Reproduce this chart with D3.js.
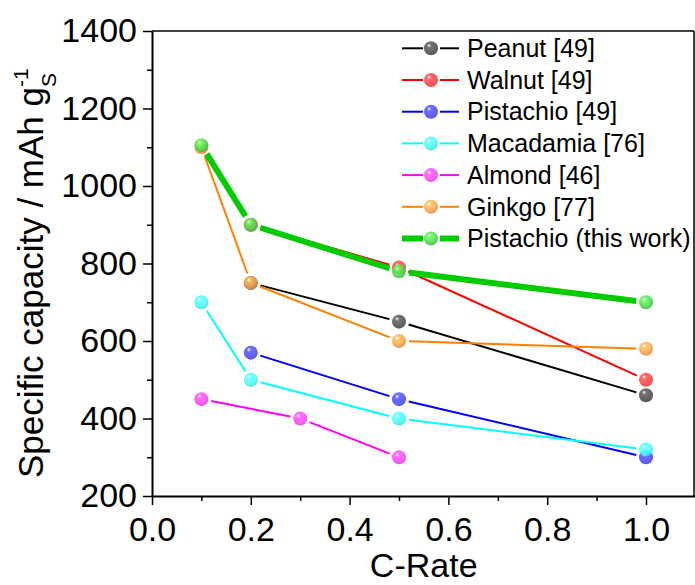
<!DOCTYPE html>
<html>
<head>
<meta charset="utf-8">
<script src="https://cdn.jsdelivr.net/npm/d3@7"></script>
<style>
  html, body { margin: 0; padding: 0; background: #fff; }
  svg { display: block; font-family: "Liberation Sans", Arial, sans-serif; }
</style>
</head>
<body>
<svg id="chart" width="695" height="585"></svg>
<script>
// ---- data ----
const seriesNames = ["Peanut [49]", "Walnut [49]", "Pistachio [49]", "Macadamia [76]", "Almond [46]", "Ginkgo [77]", "Pistachio (this work)"];
const peanutX = [0.2, 0.5, 1.0];
const peanutY = [750, 650, 460];
const walnutX = [0.2, 0.5, 1.0];
const walnutY = [900, 790, 500];
const pistachio49X = [0.2, 0.5, 1.0];
const pistachio49Y = [570, 450, 300];
const macadamiaX = [0.1, 0.2, 0.5, 1.0];
const macadamiaY = [700, 500, 400, 320];
const almondX = [0.1, 0.3, 0.5];
const almondY = [450, 400, 300];
const ginkgoX = [0.1, 0.2, 0.5, 1.0];
const ginkgoY = [1100, 750, 600, 580];
const thisWorkX = [0.1, 0.2, 0.5, 1.0];
const thisWorkY = [1105, 900, 780, 700];
const xMajorTicks = [0.0, 0.2, 0.4, 0.6, 0.8, 1.0];
const xMinorTicks = [0.1, 0.3, 0.5, 0.7, 0.9];
const yMajorTicks = [200, 400, 600, 800, 1000, 1200, 1400];
const yMinorTicks = [300, 500, 700, 900, 1100, 1300];

// ---- styles ----
const lineColors = ["#000000", "#ff0000", "#0000ff", "#00ffff", "#ff00ff", "#ff8000", "#00cc00"];
const markColors = ["#4a4a4a", "#ff4040", "#4646ff", "#46ffff", "#ff46ff", "#ffa048", "#4ad84a"];
const lineWidths = [2, 2, 2, 2, 2, 2, 6];

const seriesX = [peanutX, walnutX, pistachio49X, macadamiaX, almondX, ginkgoX, thisWorkX];
const seriesY = [peanutY, walnutY, pistachio49Y, macadamiaY, almondY, ginkgoY, thisWorkY];
const series = seriesNames.map((name, i) => ({
  name, color: lineColors[i], mark: markColors[i], width: lineWidths[i],
  points: seriesX[i].map((x, j) => ({ x, y: seriesY[i][j] }))
}));

const svg = d3.select("#chart");
const pLeft = 152, pRight = 695.4, pTop = 31, pBottom = 496;
const x = d3.scaleLinear().domain([0, 1.1]).range([pLeft, pRight]);
const y = d3.scaleLinear().domain([200, 1400]).range([pBottom, pTop]);

// gradients for sphere markers
const defs = svg.append("defs");
series.forEach((s, i) => {
  const g = defs.append("radialGradient").attr("id", "ball" + i)
    .attr("cx", "45%").attr("cy", "40%").attr("r", "60%")
    .attr("fx", "35%").attr("fy", "28%");
  g.append("stop").attr("offset", "0%").attr("stop-color", "#ffffff");
  g.append("stop").attr("offset", "25%").attr("stop-color", d3.color(s.mark).brighter(0.6));
  g.append("stop").attr("offset", "70%").attr("stop-color", s.mark);
  g.append("stop").attr("offset", "100%").attr("stop-color", d3.color(s.mark).darker(0.5));
});

const R = 7, GAP = 10;

// frame
svg.append("line").attr("x1", pLeft).attr("x2", 694).attr("y1", pTop).attr("y2", pTop)
  .attr("stroke", "#000").attr("stroke-width", 1.5);
svg.append("line").attr("x1", 694).attr("x2", 694).attr("y1", pTop).attr("y2", pBottom)
  .attr("stroke", "#000").attr("stroke-width", 1.5);

// axes
const fontSize = 34;
const yAxis = svg.append("g").attr("transform", `translate(${pLeft},0)`)
  .call(d3.axisLeft(y).tickValues(yMajorTicks).tickSize(9).tickSizeOuter(0).tickPadding(6).tickFormat(d3.format("d")));
const yMinor = svg.append("g").attr("transform", `translate(${pLeft},0)`)
  .call(d3.axisLeft(y).tickValues(yMinorTicks).tickSize(5).tickSizeOuter(0).tickFormat(""));
const xAxis = svg.append("g").attr("transform", `translate(0,${pBottom})`)
  .call(d3.axisBottom(x).tickValues(xMajorTicks).tickSize(9).tickSizeOuter(0).tickPadding(12).tickFormat(d3.format(".1f")));
const xMinor = svg.append("g").attr("transform", `translate(0,${pBottom})`)
  .call(d3.axisBottom(x).tickValues(xMinorTicks).tickSize(5).tickSizeOuter(0).tickFormat(""));
[yAxis, yMinor, xAxis, xMinor].forEach(a => {
  a.selectAll("path.domain").attr("stroke", "#000").attr("stroke-width", 2);
  a.selectAll(".tick line").attr("stroke", "#000").attr("stroke-width", 1.5);
  a.selectAll(".tick text").attr("fill", "#000").style("font-size", fontSize + "px")
    .style("font-family", '"Liberation Sans", Arial, sans-serif');
});
yMinor.select("path.domain").remove();
xMinor.select("path.domain").remove();

// axis titles
svg.append("text").attr("x", (pLeft + pRight) / 2).attr("y", 577)
  .attr("text-anchor", "middle").style("font-size", "34px").attr("fill", "#000").text("C-Rate");

const yt = svg.append("text").attr("transform", "translate(43,478) rotate(-90)")
  .attr("text-anchor", "start").style("font-size", "35px").attr("fill", "#000");
yt.append("tspan").text("Specific capacity / mAh g");
yt.append("tspan").attr("dy", 13).style("font-size", "21px").text("S");
yt.append("tspan").attr("dx", -14).attr("dy", -28).style("font-size", "21px").text("-1");

// series lines with gaps near markers
function segs(pts) {
  const out = [];
  for (let k = 0; k < pts.length - 1; k++) {
    const x1 = x(pts[k].x), y1 = y(pts[k].y), x2 = x(pts[k + 1].x), y2 = y(pts[k + 1].y);
    const dx = x2 - x1, dy = y2 - y1, L = Math.hypot(dx, dy);
    const ux = dx / L, uy = dy / L;
    out.push({ x1: x1 + ux * GAP, y1: y1 + uy * GAP, x2: x2 - ux * GAP, y2: y2 - uy * GAP });
  }
  return out;
}

const plot = svg.append("g");
series.forEach((s, i) => {
  const g = plot.append("g");
  g.selectAll("line").data(segs(s.points)).join("line")
    .attr("x1", d => d.x1).attr("y1", d => d.y1).attr("x2", d => d.x2).attr("y2", d => d.y2)
    .attr("stroke", s.color).attr("stroke-width", s.width);
  g.selectAll("circle").data(s.points).join("circle")
    .attr("cx", d => x(d.x)).attr("cy", d => y(d.y)).attr("r", R)
    .attr("fill", `url(#ball${i})`).attr("fill-opacity", 0.85);
});

// legend
const lg = svg.append("g");
const ly0 = 48.3, lstep = 31.7;
series.forEach((s, i) => {
  const yy = ly0 + i * lstep;
  const g = lg.append("g");
  g.append("line").attr("x1", 402).attr("x2", 423).attr("y1", yy).attr("y2", yy)
    .attr("stroke", s.color).attr("stroke-width", s.width);
  g.append("line").attr("x1", 440).attr("x2", 459).attr("y1", yy).attr("y2", yy)
    .attr("stroke", s.color).attr("stroke-width", s.width);
  g.append("circle").attr("cx", 431).attr("cy", yy).attr("r", R)
    .attr("fill", `url(#ball${i})`).attr("fill-opacity", 0.85);
  g.append("text").attr("x", 467).attr("y", yy).attr("dy", "0.35em")
    .style("font-size", "25px").attr("fill", "#000").text(s.name);
});
</script>
</body>
</html>
